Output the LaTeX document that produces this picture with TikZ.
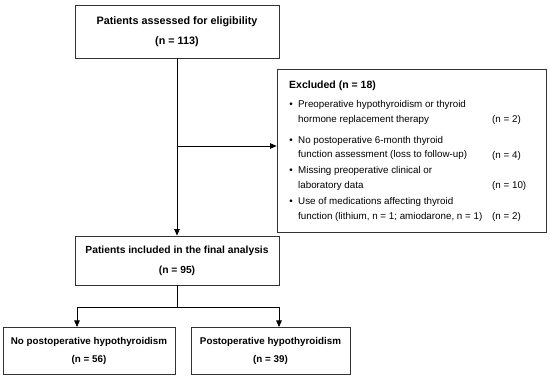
\documentclass[tikz,border=0pt]{standalone}
\usepackage{fontspec}
\setmainfont{Liberation Sans}
\usetikzlibrary{arrows.meta}
\tikzset{
  stage/.style={draw=black!80,line width=0.8pt,inner sep=0pt,align=center,
    font=\fontsize{10.8}{20}\selectfont\bfseries},
  reason/.style={anchor=west,inner sep=0pt,align=left,
    font=\fontsize{9.8}{14.5}\selectfont},
  count/.style={anchor=west,inner sep=0pt,font=\fontsize{9.8}{12}\selectfont},
  flow/.style={line width=0.8pt,-{Triangle[length=6.5pt,width=5.5pt]}}
}
\begin{document}
\begin{tikzpicture}[x=1pt,y=-1pt]
  \useasboundingbox (0,0) rectangle (550,379);
  \node[stage,minimum width=204pt,minimum height=53pt] (assessed) at (177,31.5)
    {Patients assessed for eligibility\\(n = 113)};
  \node[stage,minimum width=204pt,minimum height=49pt,
    font=\fontsize{10.3}{20}\selectfont\bfseries] (included) at (177,260.5)
    {Patients included in the final analysis\\(n = 95)};
  \node[stage,minimum width=172pt,minimum height=47pt,
    font=\fontsize{9.8}{18}\selectfont\bfseries] (nohypo) at (89,350.5)
    {No postoperative hypothyroidism\\(n = 56)};
  \node[stage,minimum width=159pt,minimum height=47pt,
    font=\fontsize{9.8}{18}\selectfont\bfseries] (hypo) at (270.5,350.5)
    {Postoperative hypothyroidism\\(n = 39)};
  \node[draw=black!80,line width=0.8pt,minimum width=269pt,minimum height=163pt,
    inner sep=0pt] (excluded) at (411.5,150.5) {};
  \node[anchor=west,inner sep=0pt,font=\fontsize{10.5}{12}\selectfont\bfseries]
    (extitle) at (289,86) {Excluded (n = 18)};
  \foreach \y/\txt/\n [count=\i] in {
      112.5/{Preoperative hypothyroidism or thyroid\\hormone replacement therapy}/2,
      148/{No postoperative 6-month thyroid\\function assessment (loss to follow-up)}/4,
      178.5/{Missing preoperative clinical or\\laboratory data}/10,
      209.5/{Use of medications affecting thyroid\\function (lithium, n = 1; amiodarone, n = 1)}/2} {
    \node[reason] (why\i) at (298,\y) {\txt};
    \node[count] (cnt\i) at (492,\y+7.5) {(n = \n)};
    \node[anchor=east,inner sep=0pt,font=\fontsize{9.8}{12}\selectfont]
      (dot\i) at (293,\y-7) {\textbullet};
  }
  \coordinate (junction) at (177,146);
  \coordinate (split) at (177,307);
  \draw[flow] (assessed.south) -- (included.north);
  \draw[flow] (junction) -- (junction -| excluded.west);
  \draw[line width=0.8pt] (included.south) -- (split);
  \draw[flow] (split) -| (77,327);
  \draw[flow] (split) -| (279,327);
\end{tikzpicture}
\end{document}
